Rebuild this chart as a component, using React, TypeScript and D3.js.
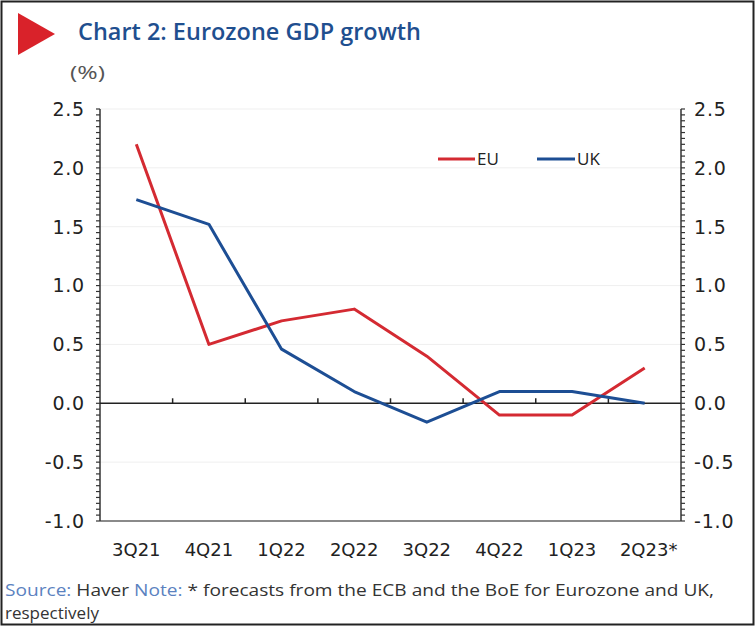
import React from "react";
import * as d3 from "d3";

const categories = ["3Q21", "4Q21", "1Q22", "2Q22", "3Q22", "4Q22", "1Q23", "2Q23*"];
const euValues = [2.2, 0.5, 0.7, 0.8, 0.4, -0.1, -0.1, 0.3];
const ukValues = [1.73, 1.52, 0.46, 0.1, -0.16, 0.1, 0.1, 0.0];
const yTicks = [2.5, 2.0, 1.5, 1.0, 0.5, 0.0, -0.5, -1.0];
const seriesNames = ["EU", "UK"];

const W = 755;
const H = 626;
const RED = "#d42a32";
const BLUE = "#1d4e94";
const TICK_FONT = "DejaVu Sans";

export default function App() {
  const left = 100;
  const right = 681;
  const x = d3.scaleBand<string>().domain(categories).range([left, right]);
  const y = d3.scaleLinear().domain([-1, 2.5]).range([521, 109]);
  const cx = (c: string) => (x(c) as number) + x.bandwidth() / 2;

  const line = d3
    .line<number>()
    .x((_, i) => cx(categories[i]))
    .y((d) => y(d));

  const minor = d3.range(-1, 2.5001, 0.05).map((v) => Math.round(v * 100) / 100);
  const boundaries = categories.slice(1).map((c) => x(c) as number);

  return (
    <div style={{ position: "absolute", left: 0, top: 0 }}>
      <svg width={W} height={H} style={{ display: "block", background: "#fff" }}>
        <rect x={1.5} y={1.5} width={W - 3} height={H - 3} fill="none" stroke="#222" strokeWidth={2} />
        {/* header */}
        <path d="M18,13 L55,34 L18,55 Z" fill="#d9222a" />
        <text
          x={78}
          y={40}
          fill="#1f4f8f"
          fontFamily="Open Sans"
          fontWeight={600}
          fontSize={23}
          textLength={343}
          lengthAdjust="spacingAndGlyphs"
        >
          Chart 2: Eurozone GDP growth
        </text>
        <text x={70} y={79} fill="#555" fontFamily="Open Sans" fontSize={19} textLength={35} lengthAdjust="spacingAndGlyphs">
          (%)
        </text>

        {/* grid */}
        {yTicks.map((t) =>
          t === 0 || t === -1 ? null : (
            <line key={"g" + t} x1={left} x2={right} y1={y(t)} y2={y(t)} stroke="#efefef" strokeWidth={1} />
          )
        )}
        <line x1={left} x2={right} y1={y(-1)} y2={y(-1)} stroke="#8a8a8a" strokeWidth={2} />

        {/* left axis */}
        <line x1={left} x2={left} y1={y(2.5)} y2={y(-1)} stroke="#333" strokeWidth={1.5} />
        {minor.map((v) => (
          <line key={"lm" + v} x1={left - 4} x2={left} y1={y(v)} y2={y(v)} stroke="#333" strokeWidth={1.2} />
        ))}
        {yTicks.map((t) => (
          <text
            key={"lt" + t}
            x={left - 15}
            y={y(t)}
            dy="0.36em"
            textAnchor="end"
            fontFamily={TICK_FONT}
            fontSize={19}
            fill="#222"
            letterSpacing={0.8}
          >
            {t.toFixed(1)}
          </text>
        ))}

        {/* right axis */}
        <line x1={right} x2={right} y1={y(2.5)} y2={y(-1)} stroke="#333" strokeWidth={1.5} />
        {minor.map((v) => (
          <line key={"rm" + v} x1={right} x2={right + 4} y1={y(v)} y2={y(v)} stroke="#333" strokeWidth={1.2} />
        ))}
        {yTicks.map((t) => (
          <text
            key={"rt" + t}
            x={right + 13}
            y={y(t)}
            dy="0.36em"
            textAnchor="start"
            fontFamily={TICK_FONT}
            fontSize={19}
            fill="#222"
            letterSpacing={0.8}
          >
            {t.toFixed(1)}
          </text>
        ))}

        {/* zero line */}
        <line x1={left} x2={right} y1={y(0)} y2={y(0)} stroke="#222" strokeWidth={1.5} />
        {boundaries.map((b, i) => (
          <line key={"xt" + i} x1={b} x2={b} y1={y(0)} y2={y(0) - 5} stroke="#222" strokeWidth={1.5} />
        ))}

        {/* x labels */}
        {categories.map((c) => (
          <text
            key={"xl" + c}
            x={cx(c) + (c.endsWith("*") ? 4 : 0)}
            y={556}
            textAnchor="middle"
            fontFamily={TICK_FONT}
            fontSize={18}
            fill="#222"
          >
            {c}
          </text>
        ))}

        {/* series */}
        <path d={line(euValues) || ""} fill="none" stroke={RED} strokeWidth={3} strokeLinejoin="round" />
        <path d={line(ukValues) || ""} fill="none" stroke={BLUE} strokeWidth={3} strokeLinejoin="round" />

        {/* legend */}
        <line x1={438} x2={475} y1={159} y2={159} stroke={RED} strokeWidth={3} />
        <text x={477} y={159} dy="0.36em" fontFamily="Open Sans" fontSize={17} fill="#222">
          {seriesNames[0]}
        </text>
        <line x1={537} x2={575} y1={159} y2={159} stroke={BLUE} strokeWidth={3} />
        <text x={577} y={159} dy="0.36em" fontFamily="Open Sans" fontSize={17} fill="#222">
          {seriesNames[1]}
        </text>

        {/* footer */}
        <text x={5} y={596} fontFamily="Open Sans" fontSize={17} fill="#333" textLength={709} lengthAdjust="spacingAndGlyphs">
          <tspan fill="#5b82bf">Source:</tspan>
          <tspan> Haver </tspan>
          <tspan fill="#5b82bf">Note:</tspan>
          <tspan> * forecasts from the ECB and the BoE for Eurozone and UK,</tspan>
        </text>
        <text x={5} y={619} fontFamily="Open Sans" fontSize={17} fill="#333" textLength={94} lengthAdjust="spacingAndGlyphs">
          respectively
        </text>
      </svg>
    </div>
  );
}
